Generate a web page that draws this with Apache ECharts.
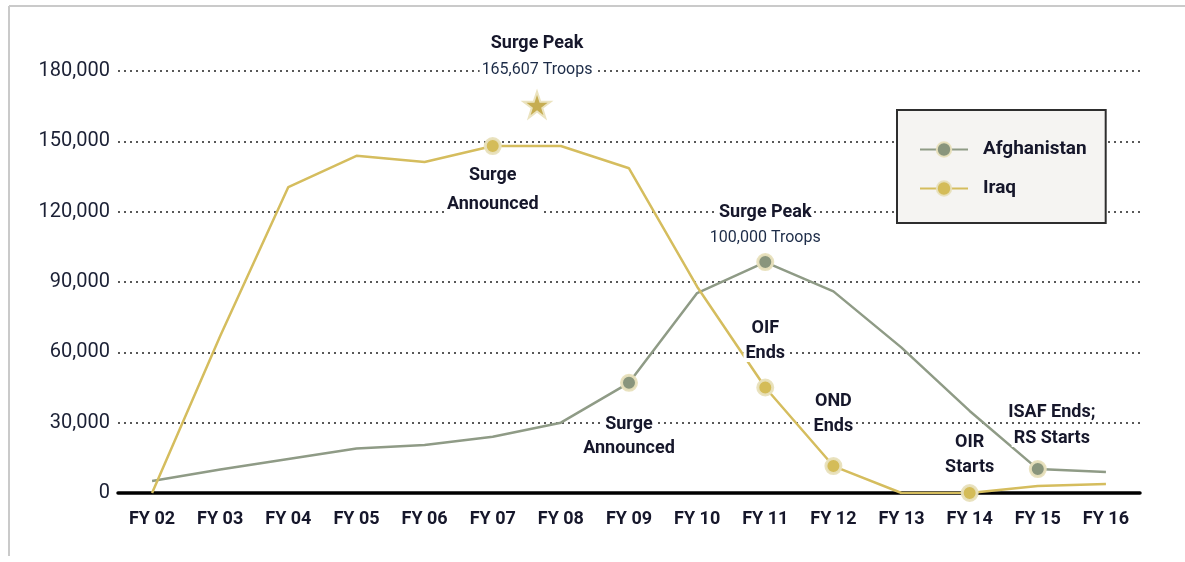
<!DOCTYPE html>
<html>
<head>
<meta charset="utf-8">
<script src="https://cdn.jsdelivr.net/npm/echarts@6/dist/echarts.min.js"></script>
<style>
html,body{margin:0;padding:0;background:#fff;}
#chart{width:1185px;height:562px;}
</style>
</head>
<body>
<div id="chart"></div>
<script>
// ---- data ----
const categories = ['FY 02','FY 03','FY 04','FY 05','FY 06','FY 07','FY 08','FY 09','FY 10','FY 11','FY 12','FY 13','FY 14','FY 15','FY 16'];
const afghanistan = [5100, 10000, 14500, 19000, 20500, 24000, 30000, 47000, 85300, 98500, 86000, 62000, 35000, 10200, 9000];
const iraq = [0, 67000, 130500, 143800, 141200, 148000, 148000, 138500, 88000, 45000, 11500, 0, 0, 3000, 3800];
const yTicks = [0, 30000, 60000, 90000, 120000, 150000, 180000];
const iraqPeak = [5.65, 165607];           // position on the FY axis, troops
const iraqPeakNote = ['Surge Peak', '165,607 Troops'];
const iraqNotes = {'FY 07': ['Surge', 'Announced'], 'FY 11': ['OIF', 'Ends'], 'FY 12': ['OND', 'Ends'], 'FY 14': ['OIR', 'Starts']};
const afghanNotes = {'FY 09': ['Surge', 'Announced'], 'FY 11': ['Surge Peak', '100,000 Troops'], 'FY 15': ['ISAF Ends;', 'RS Starts']};

// ---- styles ----
const FONT = 'Roboto, "Liberation Sans", sans-serif';
const DARK = '#16172b';
const AFG_LINE = '#8f9b86', AFG_DOT = '#89957c';
const IRQ_LINE = '#d5bd5e', IRQ_DOT = '#d4bc58';
const HALO = 'rgba(232,224,188,0.95)';

const noteStyle = {
  iraq: {
    'FY 07': {position: 'bottom', distance: 6, lh: 29},
    'FY 11': {position: 'top', distance: 13, lh: 25},
    'FY 12': {position: 'top', distance: 18, lh: 25},
    'FY 14': {position: 'top', distance: 4, lh: 25}
  },
  afg: {
    'FY 09': {position: 'bottom', distance: 21, lh: 24},
    'FY 11': {position: 'top', distance: 2, lh: 26, twoStyle: true},
    'FY 15': {position: 'top', distance: 9, lh: 26, offset: [14, 0]}
  }
};

function makeRich(lh) {
  return {
    b: {fontFamily: FONT, fontWeight: 'bold', fontSize: 18, color: DARK, lineHeight: lh, backgroundColor: '#fff', padding: [0, 2]},
    n: {fontFamily: FONT, fontWeight: 'normal', fontSize: 16, color: '#1d2c48', lineHeight: lh, backgroundColor: '#fff', padding: [0, 2]}
  };
}
function noteText(pair, twoStyle) {
  return '{b|' + pair[0] + '}\n{' + (twoStyle ? 'n' : 'b') + '|' + pair[1] + '}';
}

function buildData(values, notes, styles) {
  return values.map((v, i) => {
    const cat = categories[i];
    if (!(cat in notes)) return {value: v, symbol: 'none'};
    const st = styles[cat];
    return {
      value: v,
      label: {
        show: true,
        position: st.position,
        distance: st.distance,
        offset: st.offset || [0, 0],
        formatter: noteText(notes[cat], st.twoStyle),
        align: 'center',
        rich: makeRich(st.lh)
      }
    };
  });
}

const starPath = 'path://M50,0 L61.8,35.1 L98.1,35.1 L68.8,56.8 L79.4,90.9 L50,69.1 L20.6,90.9 L31.2,56.8 L1.9,35.1 L38.2,35.1 Z';

const chart = echarts.init(document.getElementById('chart'), null, {renderer: 'canvas'});
chart.setOption({
  animation: false,
  backgroundColor: '#fff',
  grid: {left: 118, right: 45, top: 71, bottom: 69, containLabel: false},
  graphic: [
    {type: 'line', shape: {x1: 9, y1: 6, x2: 1185, y2: 6}, style: {stroke: '#cacaca', lineWidth: 2}, z: -1},
    {type: 'line', shape: {x1: 9, y1: 6, x2: 9, y2: 556}, style: {stroke: '#cacaca', lineWidth: 2}, z: -1}
  ],
  legend: {
    orient: 'vertical',
    left: 897, top: 110,
    data: ['Afghanistan', 'Iraq'],
    backgroundColor: '#f5f4f2',
    borderColor: '#2e2e2e', borderWidth: 2, borderRadius: 0,
    padding: [30, 19, 25, 22],
    itemWidth: 48, itemHeight: 18, itemGap: 20,
    textStyle: {fontFamily: FONT, fontWeight: 'bold', fontSize: 19, color: DARK, padding: [0, 0, 0, 10]}
  },
  xAxis: [
    {
      type: 'category', data: categories, boundaryGap: true,
      axisLine: {show: true, lineStyle: {color: '#000', width: 3.5}},
      axisTick: {show: false},
      axisLabel: {fontFamily: FONT, fontWeight: 'bold', fontSize: 18, color: DARK, margin: 17, interval: 0},
      splitLine: {show: false}
    },
    {type: 'value', min: -0.5, max: 14.5, show: false}
  ],
  yAxis: {
    type: 'value', min: yTicks[0], max: yTicks[yTicks.length - 1], interval: yTicks[1] - yTicks[0],
    axisLine: {show: false}, axisTick: {show: false},
    axisLabel: {
      fontFamily: FONT, fontSize: 20, color: '#1b2035', margin: 8,
      formatter: v => v.toLocaleString('en-US')
    },
    splitLine: {show: true, lineStyle: {color: '#222', width: 1.5, type: [2, 4]}}
  },
  series: [
    {
      name: 'Afghanistan', type: 'line',
      data: buildData(afghanistan, afghanNotes, noteStyle.afg),
      symbol: 'circle', symbolSize: 15,
      lineStyle: {color: AFG_LINE, width: 2.5},
      itemStyle: {color: AFG_DOT, borderColor: HALO, borderWidth: 3},
      z: 3
    },
    {
      name: 'Iraq', type: 'line',
      data: buildData(iraq, iraqNotes, noteStyle.iraq),
      symbol: 'circle', symbolSize: 15,
      lineStyle: {color: IRQ_LINE, width: 2.5},
      itemStyle: {color: IRQ_DOT, borderColor: HALO, borderWidth: 3},
      z: 4
    },
    {
      name: 'Iraq Peak', type: 'scatter', xAxisIndex: 1,
      data: [iraqPeak],
      symbol: starPath, symbolSize: [27, 26],
      itemStyle: {color: '#c6ad52', borderColor: '#ebe3bf', borderWidth: 2, opacity: 1},
      label: {
        show: true, position: 'top', distance: 8, align: 'center',
        formatter: () => noteText(iraqPeakNote, true),
        rich: makeRich(26)
      },
      z: 5
    }
  ]
});
</script>
</body>
</html>
